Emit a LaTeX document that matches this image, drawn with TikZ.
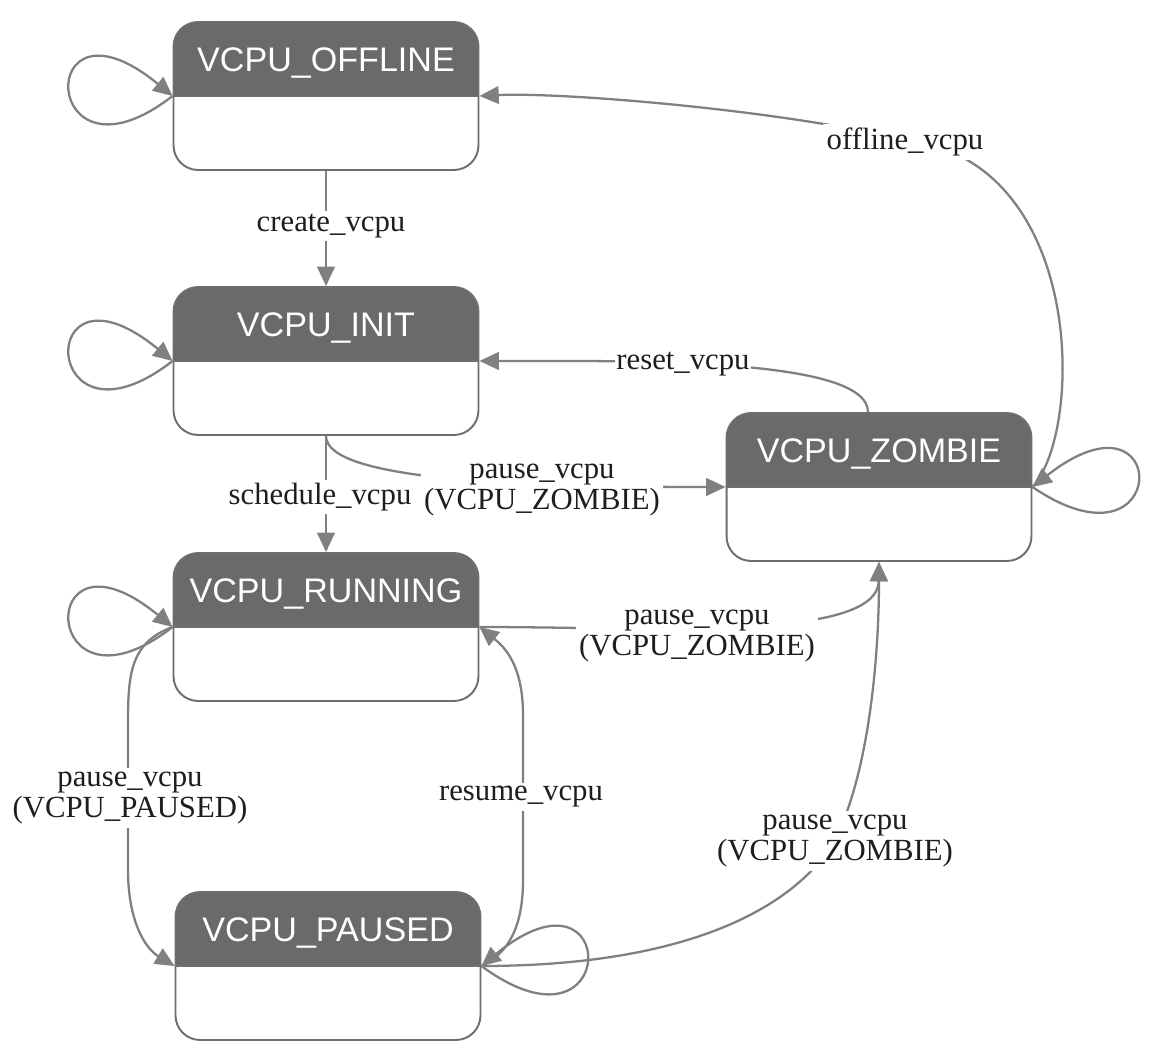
\documentclass[tikz,border=0pt]{standalone}
\usepackage{fontspec}
\setmainfont{Liberation Serif}
\newfontfamily\hdrfont{Liberation Sans}
\usetikzlibrary{arrows.meta,calc}
\definecolor{hdr}{HTML}{6B6A6B}
\definecolor{bord}{HTML}{6E6E6E}
\definecolor{edgec}{HTML}{808080}
\definecolor{txt}{HTML}{1E1E1E}
\begin{document}
\begin{tikzpicture}[x=0.02cm,y=-0.02cm,
  state/.style={draw=bord, line width=1.1pt, rounded corners=14pt, fill=white,
    minimum width=6.1cm, inner xsep=0pt, inner ysep=0pt,
    text height=0.98cm, text depth=1.98cm,
    font=\hdrfont\fontsize{19.4}{22}\selectfont, text=white,
    path picture={\fill[hdr, sharp corners] (path picture bounding box.north west) rectangle ([yshift=-1.48cm]path picture bounding box.north east);
      \draw[bord, line width=0.8pt, sharp corners] ([yshift=-1.48cm]path picture bounding box.north west) -- ([yshift=-1.48cm]path picture bounding box.north east);}},
  edge/.style={draw=edgec, line width=1.3pt, -{Triangle[length=11pt,width=10pt]}},
  lbl/.style={fill=white, text=txt, font=\fontsize{17.5}{18}\selectfont, align=center, inner sep=2pt}]
\fill[white] (0,0) rectangle (1163,1057);
\useasboundingbox (0,0) rectangle (1163,1057);

% states
\node[state] (off) at (326,96) {VCPU\_OFFLINE};
\node[state] (init) at (326,361) {VCPU\_INIT};
\node[state] (run) at (326,627) {VCPU\_RUNNING};
\node[state] (pau) at (328,966) {VCPU\_PAUSED};
\node[state] (zom) at (879,487) {VCPU\_ZOMBIE};

% self loops
\draw[edge] (off.west) .. controls +(-133,103) and +(-140,-115) .. (off.west);
\draw[edge] (init.west) .. controls +(-133,103) and +(-140,-115) .. (init.west);
\draw[edge] (run.west) .. controls +(-133,103) and +(-140,-115) .. (run.west);
\draw[edge] (pau.east) .. controls +(140,103) and +(140,-115) .. (pau.east);
\draw[edge] (zom.east) .. controls +(140,95) and +(140,-110) .. (zom.east);

% transitions
\draw[edge] (off.south) -- (init.north);
\draw[edge] (init.south) -- (run.north);
\draw[edge] (init.south) .. controls +(0,45) and +(-200,0) .. (zom.west);
\draw[edge] ($(zom.north)+(-11,0)$) .. controls +(0,-55) and +(150,0) .. (init.east);
\draw[edge] (zom.east) .. controls +(52,-57) and +(180,20) .. (905,140)
   .. controls +(-125,-30) and +(83,-4) .. (off.east);
\draw[edge] (run.west) .. controls +(-40,15) and +(0,-50) .. (128,720) -- (128,870)
   .. controls +(0,50) and +(-30,-18) .. (pau.west);
\draw[edge] (pau.east) .. controls +(25,-12) and +(0,50) .. (523,880) -- (523,715)
   .. controls +(0,-50) and +(25,20) .. (run.east);
\draw[edge] (run.east) .. controls +(171,0) and +(-1,80) .. (zom.south);
\draw[edge] (pau.east) .. controls +(220,0) and +(-35,60) .. (835,840)
   .. controls +(35,-70) and +(0,90) .. (zom.south);

% labels
\node[lbl] (l1) at (331,226) {create\_vcpu};
\node[lbl] (l2) at (320,497) {schedule\_vcpu};
\node[lbl] (l3) at (542,490) {pause\_vcpu\\(VCPU\_ZOMBIE)};
\node[lbl, inner sep=1pt] (l4) at (683,364) {reset\_vcpu};
\node[lbl] (l5) at (905,142) {offline\_vcpu};
\node[lbl] (l6) at (130,798) {pause\_vcpu\\(VCPU\_PAUSED)};
\node[lbl] (l7) at (521,797) {resume\_vcpu};
\node[lbl] (l8) at (697,636) {pause\_vcpu\\(VCPU\_ZOMBIE)};
\node[lbl] (l9) at (835,841) {pause\_vcpu\\(VCPU\_ZOMBIE)};
\end{tikzpicture}
\end{document}
